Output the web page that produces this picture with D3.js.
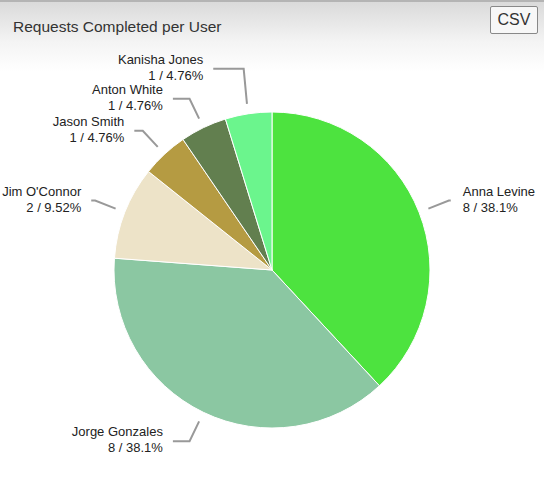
<!DOCTYPE html>
<html>
<head>
<meta charset="utf-8">
<script src="https://cdn.jsdelivr.net/npm/d3@7"></script>
<style>
  html, body { margin: 0; padding: 0; background: #fff; }
  body { width: 544px; height: 498px; overflow: hidden; font-family: "Liberation Sans", Arial, sans-serif; }
  .panel { position: relative; width: 544px; height: 498px;
           border-top: 2px solid #b4b4b4; box-sizing: border-box;
           background: linear-gradient(#dadada 0px, #f4f4f4 40px, #fff 70px, #fff 100%); }
  .title { position: absolute; left: 13px; top: 16px; font-size: 15.5px; color: #333; }
  .csv { position: absolute; left: 490px; top: 4px; width: 48px; height: 28px; box-sizing: border-box;
         border: 1px solid #888; border-radius: 2px; background: #f7f7f7;
         font-size: 16px; color: #333; text-align: center; line-height: 26px; }
  svg { position: absolute; left: 0; top: -2px; }
</style>
</head>
<body>
<div class="panel">
  <div class="title">Requests Completed per User</div>
  <div class="csv">CSV</div>
  <svg id="chart" width="544" height="498"></svg>
</div>
<script>
const users = ["Anna Levine", "Jorge Gonzales", "Jim O'Connor", "Jason Smith", "Anton White", "Kanisha Jones"];
const completed = [8, 8, 2, 1, 1, 1];
const colors = ["#4de33f", "#8bc7a2", "#ede3c8", "#b59b42", "#627f4f", "#6bf58d"];

const cx = 272, cy = 270, radius = 158;
const total = d3.sum(completed);

const svg = d3.select('#chart');
const g = svg.append('g').attr('transform', `translate(${cx},${cy})`);

const pie = d3.pie().sort(null).value(d => d.value);
const arcs = pie(users.map((u, i) => ({ name: u, value: completed[i], color: colors[i] })));

const arc = d3.arc().innerRadius(0).outerRadius(radius);
const edgeArc = d3.arc().innerRadius(radius + 10).outerRadius(radius + 10);
const elbowArc = d3.arc().innerRadius(radius + 32).outerRadius(radius + 32);

g.selectAll('path.slice')
  .data(arcs)
  .join('path')
  .attr('class', 'slice')
  .attr('d', arc)
  .attr('fill', d => d.data.color)
  .attr('stroke', '#fff')
  .attr('stroke-width', 1);

// label layout: elbow points, pushed apart on each side
const labels = arcs.map(d => {
  const mid = (d.startAngle + d.endAngle) / 2;
  const [ex, ey] = edgeArc.centroid(d);
  const [bx, by] = elbowArc.centroid(d);
  return { d, right: mid < Math.PI, ex, ey, bx, by };
});
const minGap = 30;
['left', 'right'].forEach(side => {
  const list = labels.filter(l => (side === 'right') === l.right).sort((a, b) => b.by - a.by);
  for (let i = 1; i < list.length; i++) {
    if (list[i - 1].by - list[i].by < minGap) list[i].by = list[i - 1].by - minGap;
  }
});
// label text sits on a wider circle, at the elbow's height
const textR = radius + 45;
labels.forEach(l => {
  const dy = Math.max(-textR + 12, Math.min(textR - 12, l.by));
  const dx = Math.sqrt(textR * textR - dy * dy);
  l.tx = l.right ? dx : -dx;
  let endX = l.right ? l.tx - 12 : l.tx + 10;
  if (l.right ? endX < l.bx : endX > l.bx) endX = l.bx + (l.right ? 2 : -5);
  l.hx = endX;
  l.bx = l.right ? Math.min(l.bx, l.hx) : Math.max(l.bx, l.hx);
});

g.selectAll('polyline.leader')
  .data(labels)
  .join('polyline')
  .attr('class', 'leader')
  .attr('fill', 'none')
  .attr('stroke', '#999')
  .attr('stroke-width', 2)
  .attr('points', l => [[l.ex, l.ey], [l.bx, l.by], [l.hx, l.by]].map(p => p.join(',')).join(' '));

const text = g.selectAll('text.lbl')
  .data(labels)
  .join('text')
  .attr('class', 'lbl')
  .attr('text-anchor', l => l.right ? 'start' : 'end')
  .attr('font-size', 13)
  .attr('fill', '#222')
  .attr('transform', l => `translate(${l.tx},${l.by})`);
text.append('tspan').attr('x', 0).attr('y', -5).text(l => l.d.data.name);
text.append('tspan').attr('x', 0).attr('y', 11)
  .text(l => `${l.d.data.value} / ${d3.format('.3~')(l.d.data.value / total * 100)}%`);
</script>
</body>
</html>
